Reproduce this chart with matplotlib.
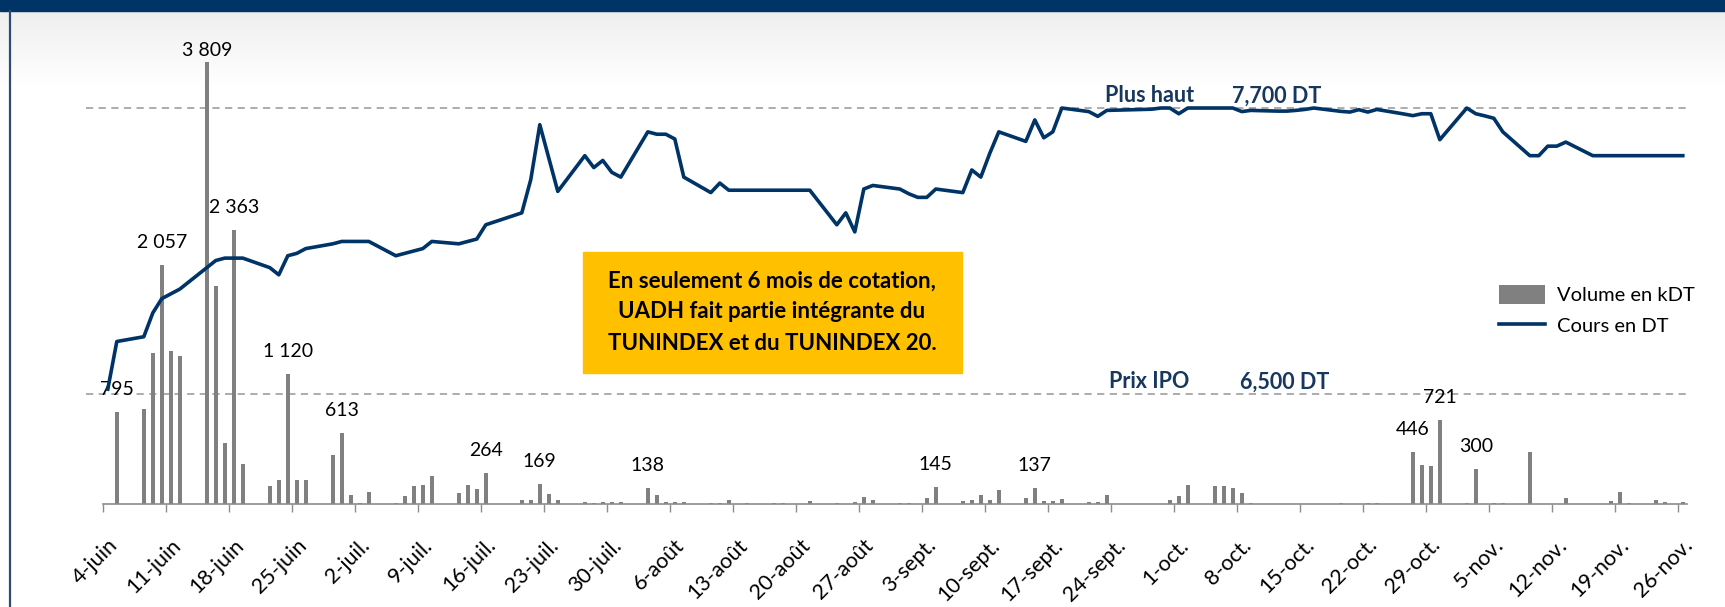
import numpy as np
import matplotlib.pyplot as plt
from matplotlib.patches import Rectangle
from matplotlib.transforms import ScaledTranslation

plt.rcParams['font.family'] = ['Lato', 'DejaVu Sans']

# UADH : du 4 juin 2015 (introduction en bourse) au 26 novembre 2015
annee = '2015'
debut = '2015-06-04'

dates = [
    # juin
    '06-04', '06-05', '06-08', '06-09', '06-10', '06-11', '06-12', '06-15', '06-16', '06-17',
    '06-18', '06-19', '06-22', '06-23', '06-24', '06-25', '06-26', '06-29', '06-30',
    # juillet
    '07-01', '07-02', '07-03', '07-06', '07-07', '07-08', '07-09', '07-10', '07-13', '07-14',
    '07-15', '07-16', '07-20', '07-21', '07-22', '07-23', '07-24', '07-27', '07-28', '07-29',
    '07-30', '07-31',
    # août
    '08-03', '08-04', '08-05', '08-06', '08-07', '08-10', '08-11', '08-12', '08-14', '08-17',
    '08-18', '08-19', '08-20', '08-21', '08-24', '08-25', '08-26', '08-27', '08-28', '08-31',
    # septembre
    '09-01', '09-02', '09-03', '09-04', '09-07', '09-08', '09-09', '09-10', '09-11', '09-14',
    '09-15', '09-16', '09-17', '09-18', '09-21', '09-22', '09-23', '09-28', '09-29', '09-30',
    # octobre
    '10-01', '10-02', '10-05', '10-06', '10-07', '10-08', '10-09', '10-12', '10-13', '10-14',
    '10-15', '10-16', '10-19', '10-20', '10-21', '10-22', '10-23', '10-26', '10-27', '10-28',
    '10-29', '10-30',
    # novembre
    '11-02', '11-03', '11-04', '11-05', '11-06', '11-09', '11-10', '11-11', '11-12', '11-13',
    '11-16', '11-17', '11-18', '11-19', '11-20', '11-23', '11-24', '11-25', '11-26',
]

volume = [
    0, 795, 821, 1298, 2057, 1321, 1270, 3809, 1873, 526,
    2363, 343, 154, 206, 1120, 206, 206, 420, 613,
    77, 11, 100, 6, 72, 154, 163, 240, 92, 163,
    132, 264, 37, 37, 169, 86, 37, 17, 9, 17,
    20, 17,
    138, 80, 17, 17, 17, 6, 6, 34, 6, 5,
    5, 0, 0, 26, 5, 0, 14, 57, 34, 6,
    6, 0, 51, 145, 26, 37, 74, 37, 123, 51,
    137, 23, 23, 46, 17, 17, 80, 0, 0, 37,
    69, 163, 152, 152, 134, 92, 5, 0, 0, 0,
    0, 4, 5, 0, 0, 6, 6, 0, 446, 337,
    323, 721,
    5, 300, 0, 6, 6, 449, 0, 0, 0, 51,
    0, 4, 29, 100, 5, 34, 20, 0, 20,
]

cours = [
    6.52, 6.72, 6.74, 6.84, 6.90, 6.92, 6.94, 7.03, 7.06, 7.07,
    7.07, 7.07, 7.03, 7.00, 7.08, 7.09, 7.11, 7.13, 7.14,
    7.14, 7.14, 7.14, 7.08, 7.09, 7.10, 7.11, 7.14, 7.13, 7.14,
    7.15, 7.21, 7.26, 7.40, 7.63, 7.49, 7.35, 7.50, 7.45, 7.48,
    7.43, 7.41,
    7.60, 7.59, 7.59, 7.57, 7.41, 7.345, 7.385, 7.355, 7.355, 7.355,
    7.355, 7.355, 7.355, 7.355, 7.21, 7.26, 7.18, 7.36, 7.375, 7.36,
    7.34, 7.325, 7.325, 7.36, 7.345, 7.44, 7.41, 7.51, 7.60, 7.56,
    7.65, 7.575, 7.60, 7.70, 7.685, 7.665, 7.69, 7.695, 7.70, 7.70,
    7.676, 7.70, 7.70, 7.70, 7.70, 7.685, 7.69, 7.687, 7.687, 7.69,
    7.694, 7.70, 7.686, 7.683, 7.693, 7.683, 7.694, 7.675, 7.668, 7.676,
    7.676, 7.567,
    7.70, 7.676, 7.667, 7.657, 7.60, 7.50, 7.50, 7.54, 7.54, 7.557,
    7.50, 7.50, 7.50, 7.50, 7.50, 7.50, 7.50, 7.50, 7.50,
]

# barres annotées
etiquetees = ['06-05', '06-10', '06-15', '06-18', '06-24', '06-30', '07-16', '07-22',
              '08-03', '09-04', '09-15', '10-27', '10-30', '11-03']

semaines = ['4-juin', '11-juin', '18-juin', '25-juin', '2-juil.', '9-juil.', '16-juil.',
            '23-juil.', '30-juil.', '6-août', '13-août', '20-août', '27-août', '3-sept.',
            '10-sept.', '17-sept.', '24-sept.', '1-oct.', '8-oct.', '15-oct.', '22-oct.',
            '29-oct.', '5-nov.', '12-nov.', '19-nov.', '26-nov.']

plus_haut = 7.7
prix_ipo = 6.5

NAVY = '#003366'
TXT_NAVY = '#17375E'
GRIS = '#808080'

W, H = 1725, 607
fig = plt.figure(figsize=(W / 100, H / 100), dpi=100)

# fond + bandeau
bg = fig.add_axes([0, 0, 1, 1], zorder=-10)
bg.set_xlim(0, W)
bg.set_ylim(H, 0)
bg.axis('off')
g = np.linspace(0.935, 1.0, 100)
bg.imshow(np.dstack([g, g, g]).reshape(-1, 1, 3), extent=(0, W, 85, 11), aspect='auto')
bg.add_patch(Rectangle((0, 0), W, 11, color=NAVY))
bg.plot([9.5, 9.5], [11, H], color='#2F4B75', lw=1.6)

jours = (np.array([annee + '-' + d for d in dates], dtype='datetime64[D]')
         - np.datetime64(debut)).astype(int)
x = jours + 0.5

haut_px = 464.6
vmax = 4000
ax = fig.add_axes([103.3 / W, (H - 504) / H, 1584 / W, haut_px / H])
ax.patch.set_visible(False)
barres = ax.bar(x, volume, width=0.45, color=GRIS, zorder=2, label='Volume en kDT')
ax.set_xlim(0, 176)
ax.set_ylim(0, vmax)
for s in ['top', 'left', 'right']:
    ax.spines[s].set_visible(False)
ax.spines['bottom'].set_color('#8C8C8C')
ax.spines['bottom'].set_linewidth(1.2)
ax.set_yticks([])
ax.set_xticks(np.arange(0, 176, 7))
ax.set_xticklabels(semaines, rotation=45, ha='right', rotation_mode='anchor', fontsize=15.5)
ax.tick_params(axis='x', length=6, width=1, color='#8C8C8C', pad=4)
decal = ScaledTranslation(0.04, -0.17, fig.dpi_scale_trans)
for lab in ax.get_xticklabels():
    lab.set_transform(lab.get_transform() + decal)

for d in etiquetees:
    i = dates.index(d)
    v = volume[i]
    # l'étiquette reste dans la zone de tracé
    place = (vmax - v) * haut_px / vmax * 0.72 - 14
    ax.annotate(f'{v:,}'.replace(',', ' '), xy=(x[i], v),
                xytext=(0, min(10, place)), textcoords='offset points',
                ha='center', va='bottom', fontsize=14, zorder=4)

ax2 = ax.twinx()
ax2.set_ylim(6.038, 7.988)
for s in ax2.spines.values():
    s.set_visible(False)
ax2.set_yticks([])
ligne, = ax2.plot(x, cours, color=NAVY, lw=2.6, label='Cours en DT')

for niveau in [plus_haut, prix_ipo]:
    ax.plot([-1.9, 176.2], [niveau, niveau], transform=ax2.transData, color='#A6A6A6',
            lw=1.3, dashes=(4, 3), zorder=1, clip_on=False)
ax.set_xlim(0, 176)
ax.set_ylim(0, vmax)

for txt, xpos, niveau in [('Plus haut', 111.3, plus_haut), ('7,700 DT', 125.4, plus_haut),
                          ('Prix IPO', 111.7, prix_ipo), ('6,500 DT', 126.3, prix_ipo)]:
    ax2.annotate(txt, xy=(xpos, niveau), xytext=(0, 4), textcoords='offset points',
                 fontsize=15.5, fontweight='bold', color=TXT_NAVY, va='baseline')

# encadré
fig.patches.append(Rectangle((583 / W, 1 - 373 / H), (962 - 583) / W, (373 - 252) / H,
                             transform=fig.transFigure, color='#FFC000', zorder=5))
fig.text(772 / W, 1 - 312 / H,
         'En seulement 6 mois de cotation,\nUADH fait partie intégrante du\nTUNINDEX et du TUNINDEX 20.',
         ha='center', va='center', fontsize=16, fontweight='bold', linespacing=1.6, zorder=6)

fig.legend([barres, ligne], ['Volume en kDT', 'Cours en DT'], loc='center left',
           bbox_to_anchor=(1499 / W, 1 - 310 / H), frameon=False, fontsize=14.5,
           handlelength=2.3, handleheight=1.1, handletextpad=0.6, labelspacing=0.55,
           borderpad=0, borderaxespad=0)

fig.savefig('out.png', dpi=100)
